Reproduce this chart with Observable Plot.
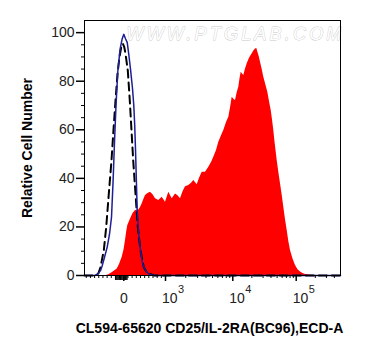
<!DOCTYPE html>
<html><head><meta charset="utf-8">
<script src="https://cdn.jsdelivr.net/npm/d3@7"></script>
<script src="https://cdn.jsdelivr.net/npm/@observablehq/plot@0.6"></script>
<style>html,body{margin:0;padding:0;background:#fff}svg{display:block}</style>
</head><body><div id="chart"></div>
<script>
// Display channel (0–256 across the axis) and relative cell number for each histogram
const redChannel = [0,22,24.3,28,32.7,35,37.7,39.5,41,42.2,43.3,46,48.5,51,54.3,56,57.7,59.5,61,63.5,66,68.5,71,74.3,77.7,81,84.3,87.7,91,93.5,96,98.5,101,104.3,107,109.3,112.7,115,117.7,121,124.3,127,129.3,132,134.3,137,139.3,142,144.3,146,147.7,149.5,151,152.8,154.3,155.5,156.7,158,159.3,161,162.7,165,167.7,169.5,171,172.3,173.3,174.8,176,177.7,179.3,181.3,183.3,185,186.7,188,189.3,190.5,192.7,194.3,196,197.7,199.3,201,202.7,204.3,206,208.5,211,213.5,216,218.5,221,226,230,256];
const redCount = [0,0,0.3,1.2,2.7,4.5,7.5,10.5,14.4,18,20.6,23.3,25.5,26.8,27,28,29.5,31.5,32.9,33.8,34.3,33.2,31.6,30.9,32.2,30.2,34.3,31.6,33.6,32.8,31.6,34.5,36.5,37.1,38,39.1,37.4,40,42.5,42.5,44.6,46.5,48.7,51.5,54.9,57.5,59.7,63,65.2,69,73.4,72.5,72.1,75.5,77.5,81,83.7,83,82.4,85,87.2,89.5,91.3,92.5,93.3,93.5,92,90,87.8,84.8,81.6,78.5,75.5,71.5,67.9,64,59.7,55,47.4,42.5,37.8,33,28.1,23,18.5,14,10.3,6.8,4.1,2.4,1.4,0.8,0.4,0.1,0,0];

const blueChannel = [0,10,13,16,17.7,20,22.7,25,27,28.5,30,31.5,33.3,35.5,37.7,39.3,41,42.7,44.3,46,48,49.3,50.2,51,52,52.7,54,56,58,59.3,62,65,70,256];
const blueCount = [0,0,0.5,2,4,7.5,11.7,17,24,38,55,70,84,93,97.5,99.3,97.5,96,91,85,77,70,62,52,37,27,18,10.3,5,3.4,1.5,0.4,0,0];

const dashChannel = [0,12,14,16,19.3,21.7,24.3,27,29,31,33,35,36.8,38.3,39.8,41,43.3,45.3,47,48.7,51,53.3,56,59.3,62,66,70,256];
const dashCount = [0,0,1,3.4,10.3,19.9,33.6,47.4,60,72,83,90,94,95.5,94,91.3,84.4,72,59.7,47.4,33.6,19.9,10.3,3.4,1.5,0.5,0,0];

// Axis ticks
const yMajorTicks = [0,20,40,60,80,100];
const yMinorTicks = [5,10,15,25,30,35,45,50,55,65,70,75,85,90,95];
const xMajorValues = [0,1e3,1e4,1e5];
const xMajorBase = ["0","10","10","10"];
const xMajorExp = ["","3","4","5"];
const decadeChannels = [39.3,81,148.3,211.7]; // display channel of 0, 10^3, 10^4, 10^5
const xMinorLinear = [-900,-800,-700,-600,-500,-400,-300,-200,-100,100,200,300,400,500,600,700,800,900];
const xNearZero = [-200,-180,-160,-140,-120,-100,-80,-60,-40,-20,20,40,60,80];
const xMinorMultipliers = [2,3,4,5,6,7,8,9];

const watermark = "WWW.PTGLAB.COM";
const xTitle = "CL594-65620 CD25/IL-2RA(BC96),ECD-A";
const yTitle = "Relative Cell Number";

// biexponential display: linear around zero, logarithmic per decade above 10^3
function toChannel(v) {
  const [c0, c3, c4, c5] = decadeChannels;
  if (v <= 1e3) return c0 + v / 1e3 * (c3 - c0);
  if (v <= 1e4) return c3 + Math.log10(v / 1e3) * (c4 - c3);
  if (v <= 1e5) return c4 + Math.log10(v / 1e4) * (c5 - c4);
  return c5 + Math.log10(v / 1e5) * (c5 - c4);
}

const red = redChannel.map((c, i) => ({c, n: redCount[i]}));
const blue = blueChannel.map((c, i) => ({c, n: blueCount[i]}));
const dash = dashChannel.map((c, i) => ({c, n: dashCount[i]}));

const majorCh = xMajorValues.map(toChannel);
const minorCh = [...xMinorLinear, ...[1e3,1e4,1e5].flatMap(d => xMinorMultipliers.map(m => m * d))]
  .map(toChannel).filter(c => c >= 0 && c <= 256);
const nearZeroCh = xNearZero.map(toChannel);
const labels = xMajorValues.map((v, i) => ({c: majorCh[i], base: xMajorBase[i], exp: xMajorExp[i]}));

const font = "'Liberation Sans', Arial, Helvetica, sans-serif";
const none = () => "";

const plot = Plot.plot({
  width: 369, height: 356,
  marginLeft: 84, marginRight: 29, marginTop: 20, marginBottom: 81,
  style: {fontFamily: font, background: "white", overflow: "visible"},
  x: {type: "linear", domain: [0, 256], axis: null},
  y: {type: "linear", domain: [0, 105], axis: null},
  marks: [
    Plot.text([watermark], {text: d => d, frameAnchor: "top", dx: 23, dy: 14, fontSize: 18, fill: "white", stroke: "#c9c9c9", strokeWidth: 0.8, fontStyle: "italic", lineAnchor: "middle"}),
    Plot.areaY(red, {x: "c", y: "n", fill: "#ff0000", curve: "linear"}),
    Plot.line(dash, {x: "c", y: "n", stroke: "#000", strokeWidth: 2, strokeDasharray: "8,5"}),
    Plot.line(blue, {x: "c", y: "n", stroke: "#1e1e96", strokeWidth: 1.5}),
    Plot.frame({stroke: "#000"}),
    Plot.axisY({anchor: "left", ticks: yMajorTicks, tickSize: 8, tickPadding: 2, fontSize: 14, strokeWidth: 1.5, label: null, fill: "#222"}),
    Plot.axisY({anchor: "left", ticks: yMinorTicks, tickSize: 3, tickFormat: none, label: null}),
    Plot.axisX({anchor: "bottom", ticks: majorCh, tickSize: 6, strokeWidth: 1.5, tickFormat: none, label: null}),
    Plot.axisX({anchor: "bottom", ticks: minorCh, tickSize: 3, tickFormat: none, label: null}),
    Plot.axisX({anchor: "bottom", ticks: nearZeroCh, tickSize: 5, tickFormat: none, label: null}),
    Plot.text(labels.filter(d => d.exp === ""), {x: "c", text: "base", frameAnchor: "bottom", dy: 23, fontSize: 14, fill: "#222", lineAnchor: "middle"}),
    Plot.text(labels.filter(d => d.exp !== ""), {x: "c", text: "base", frameAnchor: "bottom", dy: 23, dx: -3.5, textAnchor: "start", fontSize: 14, fill: "#222", lineAnchor: "middle"}),
    Plot.text(labels.filter(d => d.exp !== ""), {x: "c", text: "exp", frameAnchor: "bottom", dy: 14, dx: 12.5, textAnchor: "start", fontSize: 11, fill: "#222", lineAnchor: "middle"}),
    Plot.text([xTitle], {text: d => d, frameAnchor: "bottom", dy: 53, dx: -3, fontSize: 14, fontWeight: "bold", fill: "#000", lineAnchor: "middle"}),
    Plot.text([yTitle], {text: d => d, frameAnchor: "middle", x: () => -57, rotate: -90, fontSize: 14, fontWeight: "bold", fill: "#000", lineAnchor: "middle"})
  ]
});
plot.querySelectorAll("text").forEach(t => { if (t.textContent === watermark) t.setAttribute("letter-spacing", "3.2"); });
document.getElementById("chart").appendChild(plot);
</script></body></html>
